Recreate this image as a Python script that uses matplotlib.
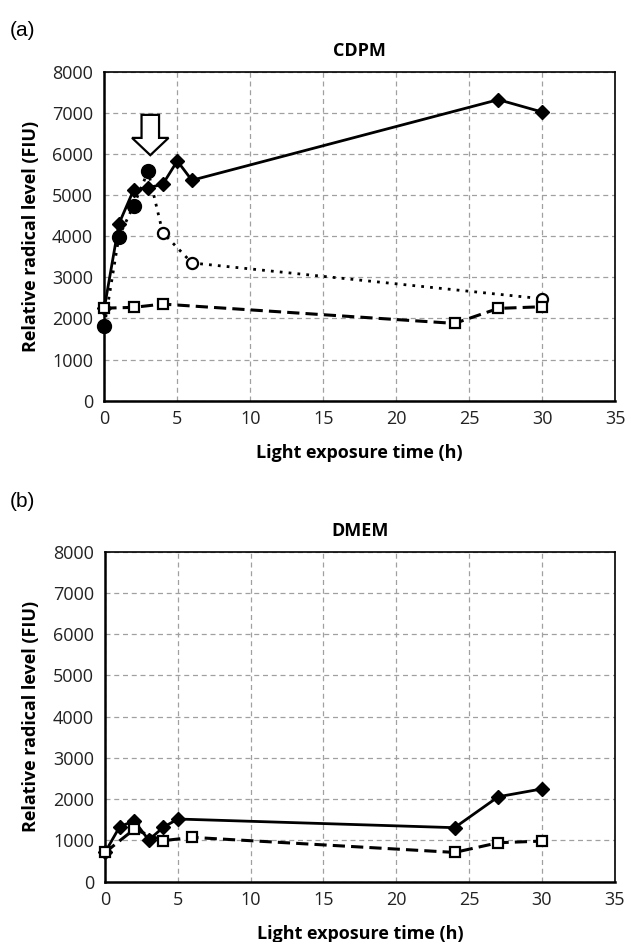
import matplotlib
matplotlib.use("Agg")
import matplotlib.pyplot as plt
from matplotlib.patches import FancyArrow

plt.rcParams["font.family"] = ["Open Sans", "DejaVu Sans"]

# ---- panel (a) CDPM ----
cdpm_diamond_x = [0, 1, 2, 3, 4, 5, 6, 27, 30]
cdpm_diamond_y = [2250, 4300, 5120, 5180, 5260, 5830, 5360, 7320, 7020]

cdpm_circle_x = [0, 1, 2, 3, 4, 6, 30]
cdpm_circle_y = [1820, 3990, 4740, 5580, 4090, 3350, 2480]
cdpm_circle_filled = [True, True, True, True, False, False, False]

cdpm_square_x = [0, 2, 4, 24, 27, 30]
cdpm_square_y = [2250, 2270, 2350, 1880, 2245, 2285]

# ---- panel (b) DMEM ----
dmem_diamond_x = [0, 1, 2, 3, 4, 5, 24, 27, 30]
dmem_diamond_y = [710, 1330, 1480, 1010, 1320, 1520, 1310, 2060, 2250]

dmem_square_x = [0, 2, 4, 6, 24, 27, 30]
dmem_square_y = [710, 1270, 995, 1075, 710, 945, 985]

x_ticks = [0, 5, 10, 15, 20, 25, 30, 35]
y_ticks = [0, 1000, 2000, 3000, 4000, 5000, 6000, 7000, 8000]

FS = 13


def style_axes(ax, title):
    ax.set_xlim(0, 35)
    ax.set_ylim(0, 8000)
    ax.set_xticks(x_ticks)
    ax.set_yticks(y_ticks)
    ax.tick_params(length=0, labelsize=FS, colors="#222222")
    ax.tick_params(axis="x", pad=7)
    ax.tick_params(axis="y", pad=8)
    ax.grid(True, color="#a0a0a0", linestyle=(0, (4, 3)), linewidth=0.9)
    ax.set_axisbelow(True)
    for side in ["left", "bottom"]:
        ax.spines[side].set_linewidth(1.8)
    for side in ["top", "right"]:
        ax.spines[side].set_linewidth(1.2)
    ax.set_title(title, fontweight="bold", fontsize=FS, pad=11)
    ax.set_xlabel("Light exposure time (h)", fontweight="bold", fontsize=FS, labelpad=11)
    ax.set_ylabel("Relative radical level (FIU)", fontweight="bold", fontsize=FS, labelpad=9)


fig = plt.figure(figsize=(6.27, 9.42), dpi=100)
ax1 = fig.add_axes([0.1664, 0.5746, 0.8145, 0.3493])
ax2 = fig.add_axes([0.1675, 0.0640, 0.8130, 0.3503])

# panel (a)
ax1.plot(cdpm_circle_x, cdpm_circle_y, color="black", linestyle=(0, (1, 2.2)),
         linewidth=2.0, zorder=3, clip_on=False)
for x, y, filled in zip(cdpm_circle_x, cdpm_circle_y, cdpm_circle_filled):
    if filled:
        ax1.plot(x, y, "o", color="black", markersize=10, zorder=4, clip_on=False)
    else:
        ax1.plot(x, y, "o", mfc="white", mec="black", mew=1.6, markersize=8,
                 zorder=4, clip_on=False)
ax1.plot(cdpm_square_x, cdpm_square_y, color="black", linestyle=(0, (4, 2)),
         linewidth=2.2, marker="s", mfc="white", mec="black", mew=1.6,
         markersize=7.5, zorder=5, clip_on=False)
ax1.plot(cdpm_diamond_x, cdpm_diamond_y, color="black", linewidth=2.0,
         marker="D", markersize=7.5, zorder=4, clip_on=False)
ax1.add_patch(FancyArrow(3.15, 6950, 0, -980, width=1.2, head_width=2.5,
                         head_length=420, length_includes_head=True,
                         fc="white", ec="black", lw=1.6, zorder=6))
style_axes(ax1, "CDPM")

# panel (b)
ax2.plot(dmem_square_x, dmem_square_y, color="black", linestyle=(0, (4, 2)),
         linewidth=2.2, marker="s", mfc="white", mec="black", mew=1.6,
         markersize=7.5, zorder=5, clip_on=False)
ax2.plot(dmem_diamond_x, dmem_diamond_y, color="black", linewidth=2.0,
         marker="D", markersize=7.5, zorder=4, clip_on=False)
style_axes(ax2, "DMEM")

fig.text(0.016, 0.962, "(a)", fontsize=15, family=["Liberation Sans", "DejaVu Sans"])
fig.text(0.016, 0.462, "(b)", fontsize=15, family=["Liberation Sans", "DejaVu Sans"])

fig.savefig("out.png", dpi=100)
